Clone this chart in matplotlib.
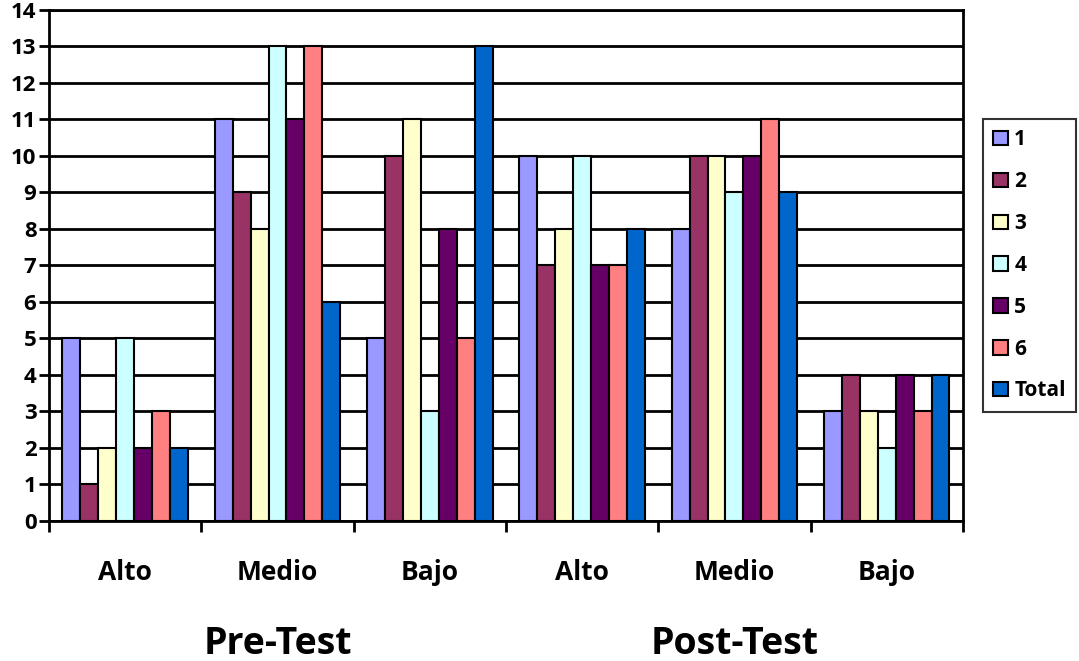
import numpy as np
import matplotlib.pyplot as plt
from matplotlib.transforms import blended_transform_factory

plt.rcParams['font.family'] = ['Open Sans', 'DejaVu Sans']

levels = ["Alto", "Medio", "Bajo", "Alto", "Medio", "Bajo"]
phases = ["Pre-Test", "Post-Test"]
series = ["1", "2", "3", "4", "5", "6", "Total"]
colors = ["#9999FF", "#993366", "#FFFFCC", "#CCFFFF", "#660066", "#FF8080", "#0066CC"]

s1 = [5, 11, 5, 10, 8, 3]
s2 = [1, 9, 10, 7, 10, 4]
s3 = [2, 8, 11, 8, 10, 3]
s4 = [5, 13, 3, 10, 9, 2]
s5 = [2, 11, 8, 7, 10, 4]
s6 = [3, 13, 5, 7, 11, 3]
total = [2, 6, 13, 8, 9, 4]
values = [s1, s2, s3, s4, s5, s6, total]

fig = plt.figure(figsize=(10.79, 6.61), dpi=100)
ax = fig.add_axes([0.0454, 0.2118, 0.847, 0.7732])

n = len(series)
w = 1 / (n + 1.5)
x = np.arange(len(levels))
for i, (name, vals) in enumerate(zip(series, values)):
    pos = x + 0.75 * w + i * w + w / 2
    ax.bar(pos, vals, width=w, color=colors[i], edgecolor="black",
           linewidth=1.5, label=name, zorder=3)

ax.set_xlim(0, len(levels))
ax.set_ylim(0, 14)
ax.set_yticks(range(0, 15))
ax.yaxis.grid(True, color="black", linewidth=2, zorder=0)
ax.set_axisbelow(True)
for sp in ax.spines.values():
    sp.set_linewidth(2)
ax.tick_params(axis="y", length=7, width=2, labelsize=16, pad=2)
for lab in ax.get_yticklabels():
    lab.set_fontweight("bold")

ax.set_xticks(range(0, len(levels) + 1))
ax.set_xticklabels([])
ax.tick_params(axis="x", length=8, width=2, direction="out")

tr = blended_transform_factory(ax.transData, ax.transAxes)
for i, lev in enumerate(levels):
    ax.text(i + 0.5, -0.1, lev, transform=tr, ha="center", va="center",
            fontsize=19, fontweight="bold")
for j, ph in enumerate(phases):
    ax.text(3 * j + 1.5, -0.24, ph, transform=tr, ha="center", va="center",
            fontsize=27, fontweight="bold")

leg = ax.legend(loc="center left", bbox_to_anchor=(1.022, 0.5), frameon=True,
                fancybox=False, edgecolor="black", prop={"weight": "bold", "size": 15},
                handlelength=0.7, handleheight=0.7, handletextpad=0.3,
                labelspacing=1.0, borderpad=0.5, borderaxespad=0)
leg.get_frame().set_linewidth(1.5)

fig.savefig("out.png", dpi=100)
